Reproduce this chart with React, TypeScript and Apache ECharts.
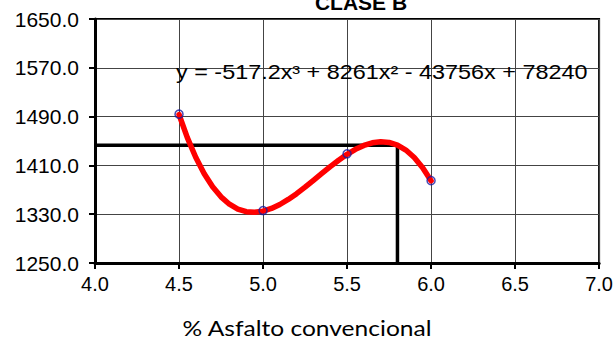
import React, { useEffect, useRef } from "react";
import * as echarts from "echarts";

const pointX = [4.5, 5.0, 5.5, 6.0];
const pointY = [1494, 1336, 1429, 1385];

// trendline values at 0.05 steps
const trendX = [
  4.5, 4.55, 4.6, 4.65, 4.7, 4.75, 4.8, 4.85, 4.9, 4.95, 5.0, 5.05, 5.1, 5.15, 5.2, 5.25,
  5.3, 5.35, 5.4, 5.45, 5.5, 5.55, 5.6, 5.65, 5.7, 5.75, 5.8, 5.85, 5.9, 5.95, 6.0,
];
const trendY = [
  1493.4, 1455.2, 1423.0, 1396.4, 1375.0, 1358.5, 1346.4, 1338.5, 1334.2, 1333.1, 1335.0,
  1339.4, 1345.9, 1354.2, 1363.7, 1374.3, 1385.5, 1396.8, 1408.0, 1418.5, 1428.1, 1436.3,
  1442.8, 1447.1, 1448.9, 1447.7, 1443.3, 1435.2, 1423.0, 1406.3, 1384.8,
];

// optimum guide line
const guideX = [4.0, 5.8, 5.8];
const guideY = [1443, 1443, 1250];

const xTicks = { min: 4.0, max: 7.0, interval: 0.5 };
const yTicks = { min: 1250, max: 1650, interval: 80 };

const titleText = "CLASE B";
const equationText = "y = -517.2x³ + 8261x² - 43756x + 78240";
const xAxisTitle = "% Asfalto convencional";

export default function App() {
  const ref = useRef<HTMLDivElement>(null);
  useEffect(() => {
    if (!ref.current) return;
    const chart = echarts.init(ref.current, undefined, { renderer: "svg" });
    const font = "'Liberation Sans', Arial, sans-serif";
    chart.setOption({
      animation: false,
      backgroundColor: "#ffffff",
      grid: {
        left: 95,
        right: 15,
        top: 19,
        bottom: 80,
        show: true,
        borderColor: "#000",
        borderWidth: 2,
        backgroundColor: "transparent",
      },
      xAxis: {
        type: "value",
        min: xTicks.min,
        max: xTicks.max,
        interval: xTicks.interval,
        axisLine: { show: true, onZero: false, lineStyle: { color: "#000", width: 3 } },
        axisTick: { show: true, length: 6, lineStyle: { color: "#000", width: 2 } },
        axisLabel: {
          color: "#000",
          fontFamily: font,
          fontSize: 20,
          margin: 11,
          formatter: (v: number) => v.toFixed(1),
        },
        splitLine: { show: true, lineStyle: { color: "#444", width: 1 } },
      },
      yAxis: {
        type: "value",
        min: yTicks.min,
        max: yTicks.max,
        interval: yTicks.interval,
        axisLine: { show: true, onZero: false, lineStyle: { color: "#000", width: 3 } },
        axisTick: { show: true, length: 6, lineStyle: { color: "#000", width: 2 } },
        axisLabel: {
          color: "#000",
          fontFamily: font,
          fontSize: 21,
          margin: 16,
          formatter: (v: number) => v.toFixed(1),
        },
        splitLine: { show: true, lineStyle: { color: "#444", width: 1 } },
      },
      series: [
        {
          type: "line",
          data: guideX.map((x, i) => [x, guideY[i]]),
          showSymbol: false,
          symbol: "none",
          lineStyle: { color: "#000", width: 3.5 },
          z: 3,
        },
        {
          type: "line",
          data: trendX.map((x, i) => [x, trendY[i]]),
          smooth: false,
          showSymbol: false,
          symbol: "none",
          lineStyle: { color: "#ff0000", width: 5.5, cap: "round", join: "round" },
          z: 4,
        },
        {
          type: "scatter",
          data: pointX.map((x, i) => [x, pointY[i]]),
          symbol: "circle",
          symbolSize: 8,
          itemStyle: { color: "rgba(255,255,255,0)", borderColor: "#1a1aa0", borderWidth: 1.5 },
          z: 5,
        },
      ],
      graphic: [
        {
          type: "text",
          x: 361,
          y: 2,
          style: {
            text: titleText,
            fontFamily: font,
            fontWeight: "bold",
            fontSize: 21,
            fill: "#000",
            align: "center",
            verticalAlign: "middle",
          },
          z: 10,
        },
        {
          type: "text",
          x: 176,
          y: 72,
          scaleX: 1.17,
          style: {
            text: equationText,
            fontFamily: font,
            fontSize: 20,
            fill: "#000",
            align: "left",
            verticalAlign: "middle",
          },
          z: 10,
        },
        {
          type: "text",
          x: 307,
          y: 328,
          scaleX: 1.17,
          style: {
            text: xAxisTitle,
            fontFamily: "Lato, 'Open Sans', sans-serif",
            fontSize: 21,
            fill: "#000",
            align: "center",
            verticalAlign: "middle",
          },
          z: 10,
        },
      ],
    });
    return () => chart.dispose();
  }, []);
  return <div ref={ref} style={{ width: 616, height: 343, position: "absolute", left: 0, top: 0 }} />;
}
